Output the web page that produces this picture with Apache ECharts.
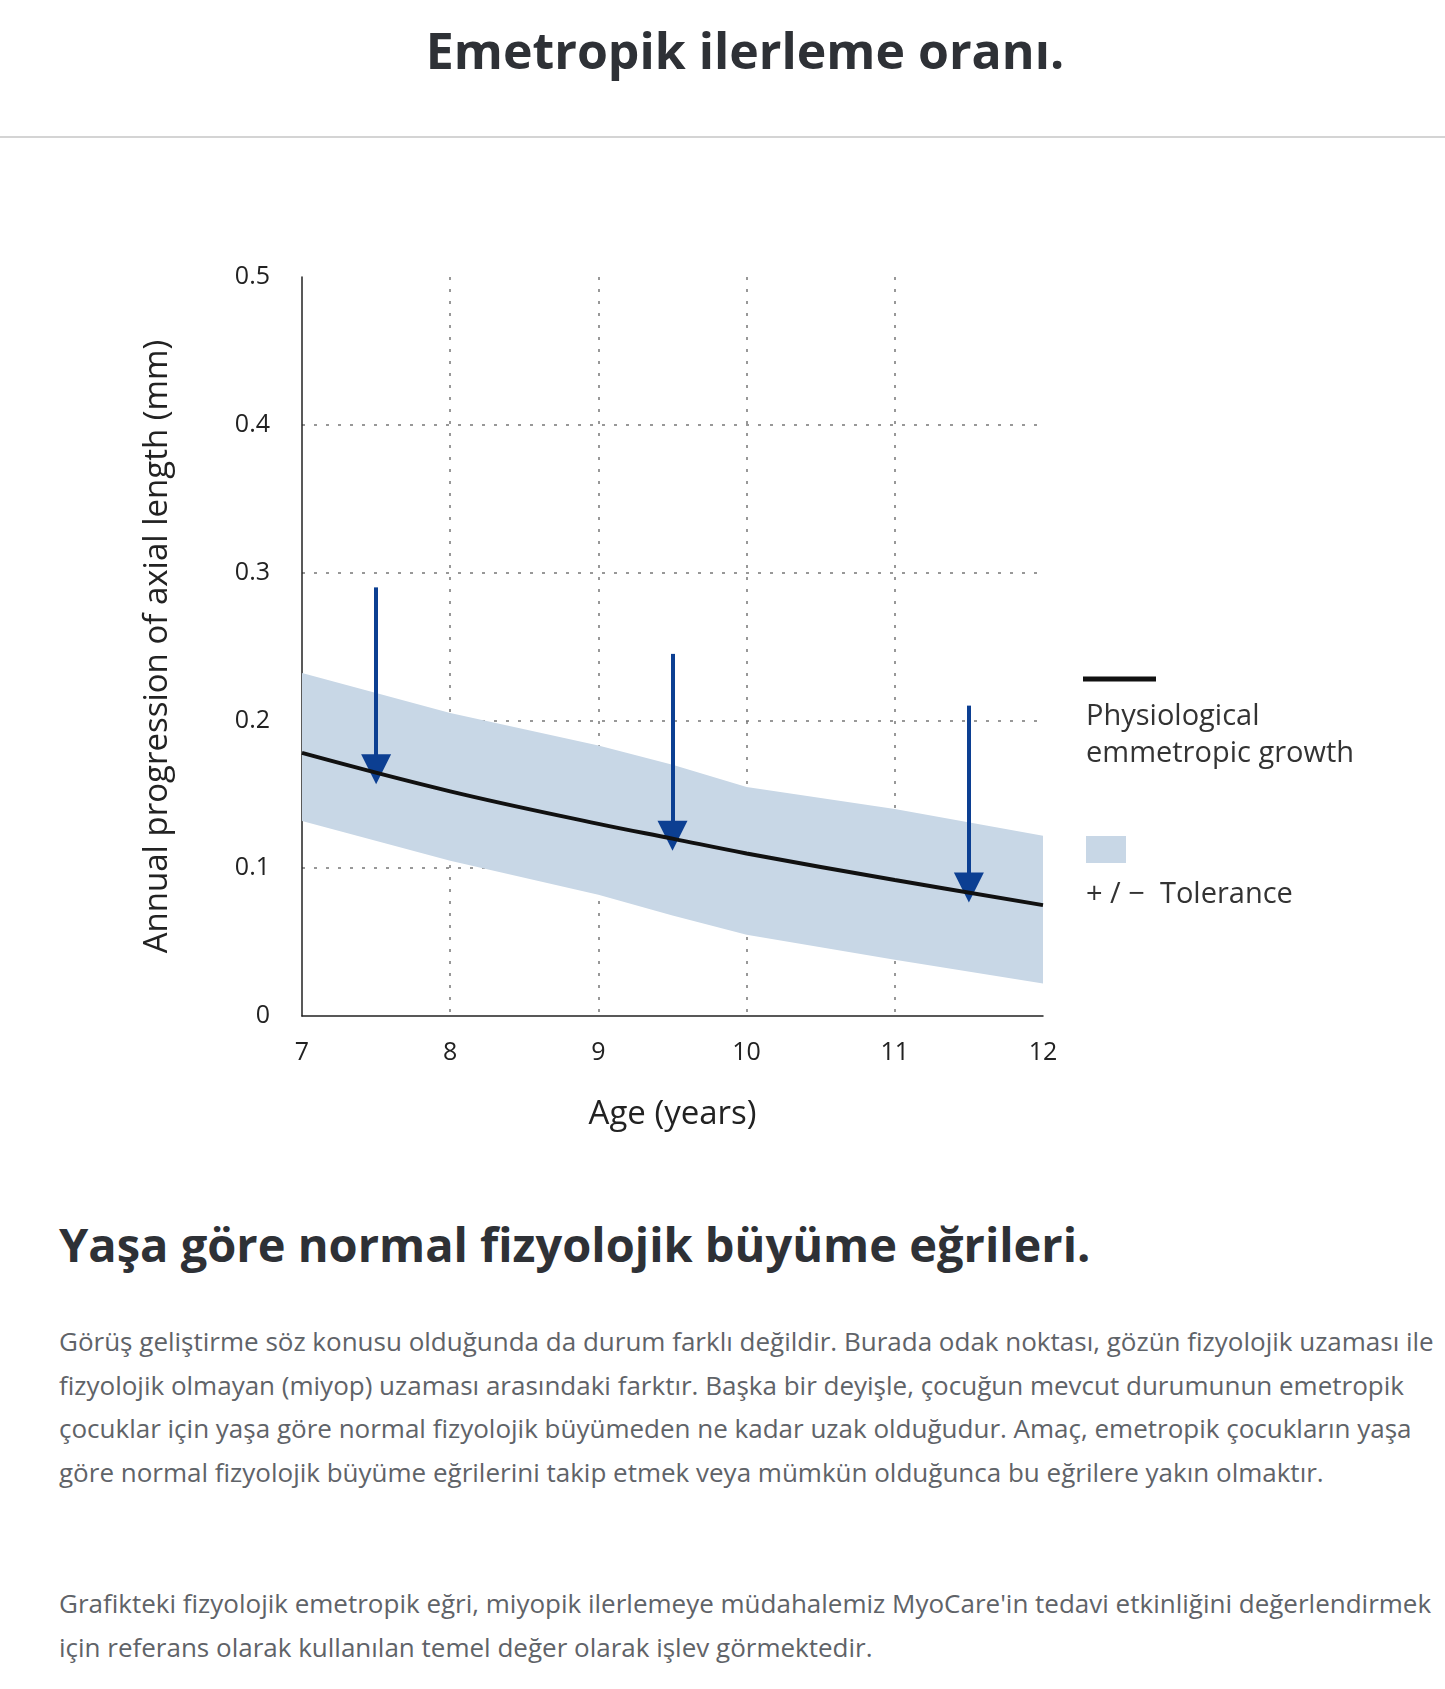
<!DOCTYPE html>
<html>
<head>
<meta charset="utf-8">
<script src="https://cdn.jsdelivr.net/npm/echarts@6/dist/echarts.min.js"></script>
<style>
  body { margin: 0; background: #fff; font-family: "Open Sans", sans-serif; }
  #page { position: relative; width: 1445px; height: 1689px; overflow: hidden; }
  #chart { position: absolute; left: 0; top: 0; width: 1445px; height: 1200px; }
  h1 { position: absolute; top: 16px; left: 0; width: 1490px; margin: 0; text-align: center; font-size: 50px; font-weight: 700; color: #2e3136; }
  .rule { position: absolute; top: 136px; left: 0; width: 1445px; border-top: 2px solid #d4d4d4; }
  h2 { position: absolute; top: 1212px; left: 59px; margin: 0; font-size: 47px; font-weight: 700; color: #2e3136; }
  .p { position: absolute; left: 59px; width: 1385px; margin: 0; font-size: 26px; line-height: 43.5px; color: #5f6368; }
</style>
</head>
<body>
<div id="page">
  <div id="chart"></div>
  <h1>Emetropik ilerleme oranı.</h1>
  <div class="rule"></div>
  <h2>Yaşa göre normal fizyolojik büyüme eğrileri.</h2>
  <p class="p" style="top:1320px">Görüş geliştirme söz konusu olduğunda da durum farklı değildir. Burada odak noktası, gözün fizyolojik uzaması ile fizyolojik olmayan (miyop) uzaması arasındaki farktır. Başka bir deyişle, çocuğun mevcut durumunun emetropik çocuklar için yaşa göre normal fizyolojik büyümeden ne kadar uzak olduğudur. Amaç, emetropik çocukların yaşa göre normal fizyolojik büyüme eğrilerini takip etmek veya mümkün olduğunca bu eğrilere yakın olmaktır.</p>
  <p class="p" style="top:1582px">Grafikteki fizyolojik emetropik eğri, miyopik ilerlemeye müdahalemiz MyoCare'in tedavi etkinliğini değerlendirmek için referans olarak kullanılan temel değer olarak işlev görmektedir.</p>
</div>
<script>
const ages = [7, 8, 9, 9.5, 10, 11, 12];
const growth = [0.178, 0.152, 0.13, 0.12, 0.11, 0.092, 0.075];
const upper = [0.232, 0.205, 0.183, 0.17, 0.155, 0.14, 0.122];
const lower = [0.132, 0.105, 0.082, 0.068, 0.055, 0.038, 0.022];
const arrowAges = [7.5, 9.5, 11.5];
const arrowFrom = [0.29, 0.245, 0.21];
const arrowTo = [0.167, 0.122, 0.087];

const chart = echarts.init(document.getElementById("chart"));
const font = "Open Sans";
chart.setOption({
  animation: false,
  grid: { left: 302, right: 402, top: 277, bottom: 184 },
  xAxis: {
    type: "value", min: 7, max: 12, interval: 1,
    name: "Age (years)", nameLocation: "middle", nameGap: 82,
    nameTextStyle: { fontSize: 33, color: "#222", fontFamily: font },
    axisLine: { lineStyle: { color: "#222", width: 1.5 } },
    axisTick: { show: false },
    axisLabel: { fontSize: 25, color: "#222", margin: 24, fontFamily: font },
    splitLine: { showMinLine: false, showMaxLine: false, lineStyle: { type: [3, 9], color: "#777", width: 1.5 } }
  },
  yAxis: {
    type: "value", min: 0, max: 0.5, interval: 0.1,
    name: "Annual progression of axial length (mm)", nameLocation: "middle", nameGap: 128,
    nameTextStyle: { fontSize: 33, color: "#222", fontFamily: font },
    axisLine: { show: true, lineStyle: { color: "#222", width: 1.5 } },
    axisTick: { show: false },
    axisLabel: { fontSize: 25, color: "#222", margin: 32, fontFamily: font,
      formatter: v => (v === 0 ? "0" : v.toFixed(1)) },
    splitLine: { showMinLine: false, showMaxLine: false, lineStyle: { type: [3, 9], color: "#777", width: 1.5 } }
  },
  series: [
    { type: "custom", silent: true, z: 1,
      data: [0],
      renderItem: (params, api) => {
        const pts = ages.map((a, i) => api.coord([a, upper[i]]))
          .concat(ages.slice().reverse().map((a, j) => api.coord([a, lower[ages.length - 1 - j]])));
        return { type: "polygon", shape: { points: pts }, style: { fill: "#c8d7e6" } };
      } },
    { type: "line", data: ages.map((a, i) => [a, growth[i]]), smooth: 0.4,
      symbol: "none", lineStyle: { color: "#111", width: 4 }, z: 5,
      markLine: {
        silent: true, symbol: ["none", "triangle"], symbolSize: [30, 30],
        label: { show: false },
        lineStyle: { color: "#0c3f92", width: 4, type: "solid" },
        data: arrowAges.map((a, i) => [{ coord: [a, arrowFrom[i]] }, { coord: [a, arrowTo[i]] }])
      } }
  ],
  graphic: [
    { type: "line", shape: { x1: 1083, y1: 679, x2: 1156, y2: 679 }, style: { stroke: "#111", lineWidth: 5 } },
    { type: "text", left: 1086, top: 698, style: { text: "Physiological\nemmetropic growth", font: "29px 'Open Sans'", fill: "#333", lineHeight: 37 } },
    { type: "rect", shape: { x: 1086, y: 836, width: 40, height: 27 }, style: { fill: "#c8d7e6" } },
    { type: "text", left: 1086, top: 880, style: { text: "+ / −  Tolerance", font: "29px 'Open Sans'", fill: "#333" } }
  ]
});
</script>
</body>
</html>
